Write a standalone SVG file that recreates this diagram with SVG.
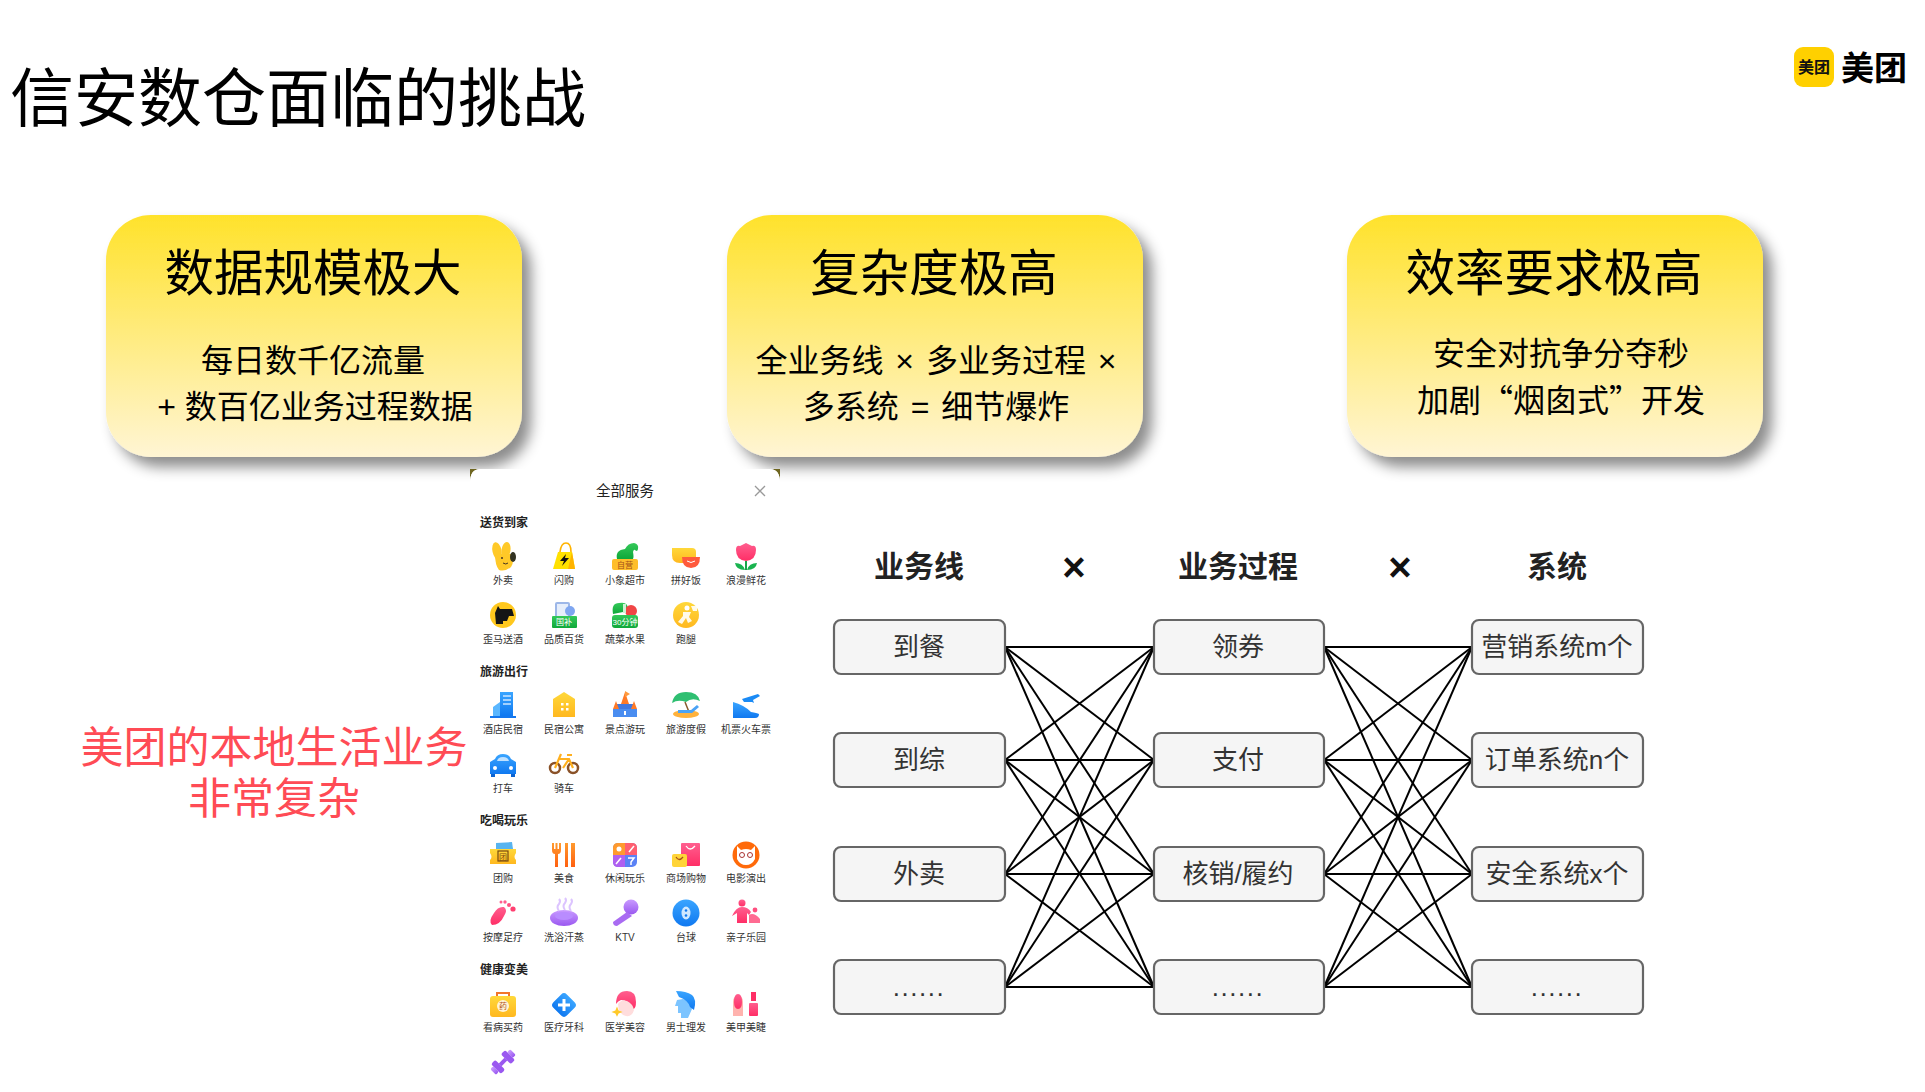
<svg xmlns="http://www.w3.org/2000/svg" width="1925" height="1092" viewBox="0 0 1925 1092">
<style>
text{font-family:"Liberation Sans","Noto Sans CJK SC",sans-serif;text-anchor:middle}
.title{font-size:64px;text-anchor:start;fill:#000}
.ch{font-size:49.500px;fill:#000}
.cs{font-size:32px;fill:#000}
.cjk{font-family:"Noto Sans CJK SC",sans-serif}
.ws{word-spacing:3px}
.red{font-size:43px;fill:#ff4b55}
.colh{font-size:30px;font-weight:700;fill:#222}
.times{font-size:40px;font-weight:700;fill:#111}
.nt{font-size:26px;fill:#333}
.dots{letter-spacing:1.500px}
.nr{fill:#f5f5f5;stroke:#666;stroke-width:2.200}
.lbl{font-size:10px;fill:#333}
.hd{font-size:12px;font-weight:700;fill:#222}
#connectors line{stroke:#000;stroke-width:2}
</style>
<defs>
<linearGradient id="cg" x1="0" y1="0" x2="0" y2="1"><stop offset="0" stop-color="#ffe22b"/><stop offset="1" stop-color="#fff5d4"/></linearGradient>
<linearGradient id="yl" x1="0" y1="0" x2="0" y2="1"><stop offset="0" stop-color="#ffd83a"/><stop offset="1" stop-color="#ffb81f"/></linearGradient>
<linearGradient id="gr" x1="0" y1="0" x2="0" y2="1"><stop offset="0" stop-color="#35c95a"/><stop offset="1" stop-color="#0fa83a"/></linearGradient>
<linearGradient id="bl" x1="0" y1="0" x2="0" y2="1"><stop offset="0" stop-color="#3aa5ff"/><stop offset="1" stop-color="#0f78f0"/></linearGradient>
<linearGradient id="pk" x1="0" y1="0" x2="0" y2="1"><stop offset="0" stop-color="#ff5f8f"/><stop offset="1" stop-color="#ff2e66"/></linearGradient>
<linearGradient id="pu" x1="0" y1="0" x2="0" y2="1"><stop offset="0" stop-color="#c99bff"/><stop offset="1" stop-color="#9a58f0"/></linearGradient>
<linearGradient id="or" x1="0" y1="0" x2="0" y2="1"><stop offset="0" stop-color="#ff9a2e"/><stop offset="1" stop-color="#ff5f0f"/></linearGradient>
<filter id="sh" x="-10%" y="-10%" width="125%" height="130%"><feDropShadow dx="9" dy="10" stdDeviation="7" flood-color="#000" flood-opacity=".45"/></filter>
</defs>
<rect width="1925" height="1092" fill="#fff"/>
<text class="title" x="10" y="121">信安数仓面临的挑战</text>

<g id="logo">
<rect x="1794" y="47" width="40" height="40" rx="9" fill="#ffd000"/>
<text x="1814" y="73" style="font-size:16px;font-weight:700;fill:#111">美团</text>
<text x="1874" y="80" style="font-size:33px;font-weight:700;fill:#000">美团</text>
</g>

<g id="card1"><rect x="106" y="215" width="416" height="242" rx="45" fill="url(#cg)" filter="url(#sh)"/>
<text class="ch" x="313" y="291">数据规模极大</text>
<text class="cs" x="313" y="372">每日数千亿流量</text>
<text class="cs" x="315" y="418">+ 数百亿业务过程数据</text></g>
<g id="card2"><rect x="727" y="215" width="416" height="242" rx="45" fill="url(#cg)" filter="url(#sh)"/>
<text class="ch" x="934" y="291">复杂度极高</text>
<text class="cs ws" x="936" y="372">全业务线 × 多业务过程 ×</text>
<text class="cs ws" x="936" y="418">多系统 = 细节爆炸</text></g>
<g id="card3"><rect x="1347" y="215" width="416" height="242" rx="45" fill="url(#cg)" filter="url(#sh)"/>
<text class="ch" x="1554" y="291">效率要求极高</text>
<text class="cs" x="1561" y="365">安全对抗争分夺秒</text>
<text class="cs cjk" x="1561" y="412">加剧“烟囱式”开发</text></g>

<g id="red-note"><text class="red" x="274" y="763">美团的本地生活业务</text><text class="red" x="274" y="814">非常复杂</text></g>

<g id="panel">
<path d="M470 483q0-14 10-14h-10z M780 483q0-14-10-14h10z" fill="#6f6620"/>
<path d="M480 469H770Q780 469 780 483V1092H470V483Q470 469 480 469Z" fill="#fff"/>
<text x="625" y="496" style="font-size:14.500px;fill:#222">全部服务</text>
<path d="M755 486l10 10M765 486l-10 10" stroke="#999" stroke-width="1.300" fill="none"/>
<text class="hd" x="504" y="527">送货到家</text>
<text class="hd" x="504" y="676">旅游出行</text>
<text class="hd" x="504" y="825">吃喝玩乐</text>
<text class="hd" x="504" y="974">健康变美</text>

<g class="labels">
<text class="lbl" x="503" y="584">外卖</text><text class="lbl" x="564" y="584">闪购</text><text class="lbl" x="625" y="584">小象超市</text><text class="lbl" x="686" y="584">拼好饭</text><text class="lbl" x="746" y="584">浪漫鲜花</text>
<text class="lbl" x="503" y="643">歪马送酒</text><text class="lbl" x="564" y="643">品质百货</text><text class="lbl" x="625" y="643">蔬菜水果</text><text class="lbl" x="686" y="643">跑腿</text>
<text class="lbl" x="503" y="733">酒店民宿</text><text class="lbl" x="564" y="733">民宿公寓</text><text class="lbl" x="625" y="733">景点游玩</text><text class="lbl" x="686" y="733">旅游度假</text><text class="lbl" x="746" y="733">机票火车票</text>
<text class="lbl" x="503" y="792">打车</text><text class="lbl" x="564" y="792">骑车</text>
<text class="lbl" x="503" y="882">团购</text><text class="lbl" x="564" y="882">美食</text><text class="lbl" x="625" y="882">休闲玩乐</text><text class="lbl" x="686" y="882">商场购物</text><text class="lbl" x="746" y="882">电影演出</text>
<text class="lbl" x="503" y="941">按摩足疗</text><text class="lbl" x="564" y="941">洗浴汗蒸</text><text class="lbl" x="625" y="941">KTV</text><text class="lbl" x="686" y="941">台球</text><text class="lbl" x="746" y="941">亲子乐园</text>
<text class="lbl" x="503" y="1031">看病买药</text><text class="lbl" x="564" y="1031">医疗牙科</text><text class="lbl" x="625" y="1031">医学美容</text><text class="lbl" x="686" y="1031">男士理发</text><text class="lbl" x="746" y="1031">美甲美睫</text>
</g>

<g class="icons">
<g transform="translate(503,557)"><ellipse cx="-6" cy="-6" rx="4.500" ry="9" fill="#ffc928" transform="rotate(-12 -6 -6)"/><ellipse cx="3" cy="-7" rx="4.500" ry="8" fill="#ffc928" transform="rotate(8 3 -7)"/><path d="M-8-3H8Q12 4 8 10Q2 15-4 13Q-8 8-8-3Z" fill="#ffc928"/><ellipse cx="10" cy="0" rx="3" ry="5" fill="#332"/><circle cx="-1" cy="1" r="1" fill="#432"/><path d="M0 6q3 2 5 0" stroke="#432" fill="none"/></g>
<g transform="translate(564,557)"><path d="M-11 12L-6-5H8L11 12Z" fill="#ffe100"/><path d="M8-5L11 12H4Z" fill="#ffb300"/><path d="M-4-5Q-3-14 2-14Q7-14 7-5" stroke="#ffb300" stroke-width="1.600" fill="none"/><path d="M2-3L-4 4H0L-2 9L5 1H1Z" fill="#111"/></g>
<g transform="translate(625,557)"><path d="M-8 2Q-10-7 0-8Q3-14 9-14Q14-13 13-8Q13-6 11-6Q9-9 8-5Q9 0 8 2Z" fill="url(#gr)"/><rect x="-13" y="2" width="26" height="11" rx="2" fill="#ffbe2b"/><text x="0" y="11" style="font-size:8px;fill:#a4501a">自营</text></g>
<g transform="translate(686,557)"><path d="M-14-9H6Q10-9 10-5V6H-6Q-14 6-14-2Z" fill="url(#yl)"/><path d="M-4 0H14Q14 11 5 11Q-4 11-4 0Z" fill="#ff5a3c"/><path d="M1 4q4 3 8 0" stroke="#fff" fill="none"/></g>
<g transform="translate(746,557)"><path d="M-10-7Q-10-12-6-11L0-14L6-11Q10-12 10-7Q10 3 0 4Q-10 3-10-7Z" fill="url(#pk)"/><path d="M0 4V13" stroke="#19a648" stroke-width="2"/><path d="M-1 13Q-10 13-11 6Q-3 6-1 13ZM1 13Q10 13 11 6Q3 6 1 13Z" fill="#19b34f"/></g>
<g transform="translate(503,615)"><circle r="13" fill="#ffc81e"/><path d="M-8-2L-5-9L-3-6L9-6L11 1L6 1L4 6L0 6V9H-7Z" fill="#151515"/></g>
<g transform="translate(564,615)"><rect x="-9" y="-13" width="15" height="20" rx="2" fill="#9db7e8"/><rect x="-7" y="-11" width="11" height="16" fill="#e6eefb"/><circle cx="6" cy="-4" r="5" fill="#7fa6f0"/><rect x="-12" y="1" width="25" height="12" rx="1" fill="url(#gr)"/><text x="0" y="10" style="font-size:8px;fill:#fff">国补</text></g>
<g transform="translate(625,615)"><path d="M-12-1Q-14-12-6-12Q4-14 3-4Z" fill="url(#gr)"/><circle cx="6" cy="-4" r="6" fill="#f04545"/><rect x="-2" y="-11" width="3" height="9" fill="#cdf3d6"/><rect x="-13" y="0" width="26" height="13" rx="3" fill="url(#gr)"/><text x="0" y="10" style="font-size:8px;fill:#fff">30分钟</text></g>
<g transform="translate(686,615)"><circle r="13" fill="url(#yl)"/><circle cx="1" cy="-7" r="2.500" fill="#fff"/><path d="M-3-3H5L3 2L6 6L2 8L0 3L-4 9L-8 7L-3 1ZM5-9H11V-4H7Z" fill="#fff" opacity=".9"/></g>
<g transform="translate(503,705)"><path d="M-3-13H10V11H-3Z" fill="url(#bl)"/><path d="M0-9H8M0-5H8M0-1H8" stroke="#cde6ff" stroke-width="1.500"/><path d="M-10 2L-3-3V11H-10Z" fill="#5ab7ff"/><rect x="-13" y="11" width="26" height="2" fill="#1477ee"/></g>
<g transform="translate(564,705)"><path d="M-11-6L0-13L11-6V12H-11Z" fill="url(#yl)"/><rect x="-3" y="-2" width="2.500" height="2.500" fill="#fff"/><rect x="2" y="-2" width="2.500" height="2.500" fill="#fff"/><rect x="-3" y="3" width="2.500" height="2.500" fill="#fff"/><rect x="2" y="3" width="2.500" height="2.500" fill="#fff"/></g>
<g transform="translate(625,705)"><rect x="-8" y="-1" width="16" height="13" fill="#3f78e0"/><rect x="-12" y="4" width="24" height="8" fill="#4a8df0"/><path d="M-4-1L0-13L4-1Z M-12 4L-9-4L-6 4Z M6 4L9-4L12 4Z" fill="#ff7a26"/><path d="M0-14V-8L5-11Z" fill="#ff9a3c"/><rect x="-1" y="6" width="2" height="4" fill="#fff"/></g>
<g transform="translate(686,705)"><path d="M-14-2Q-12-13 0-13Q12-13 14-4Q6-8 0-3Q-8-6-14-2Z" fill="#2fbf71"/><path d="M-1-3L3 7" stroke="#8a5a2c" stroke-width="1.500"/><ellipse cx="0" cy="9" rx="13" ry="4" fill="#ffb23c"/><path d="M-8 5H5L11 0L13 2L6 8H-8Z" fill="#4aa3f5"/></g>
<g transform="translate(746,705)"><path d="M-4-6L12-11L14-9L7-5L8-2L6-3L-2-3Z" fill="#1a8af5"/><path d="M-13-3Q-2 0 5 7Q11 8 13 9Q13 13 9 13H-13Z" fill="url(#bl)"/></g>
<g transform="translate(503,765)"><path d="M-8-6Q-6-11 0-11Q6-11 8-6L13-3V9H-13V-3Z" fill="url(#bl)"/><path d="M-6-4Q-5-8 0-8Q5-8 6-4Z" fill="#bfe1ff"/><circle cx="-8" cy="3" r="2" fill="#fff"/><circle cx="8" cy="3" r="2" fill="#fff"/><rect x="-12" y="9" width="4" height="3" fill="#0b63d0"/><rect x="8" y="9" width="4" height="3" fill="#0b63d0"/></g>
<g transform="translate(564,763)"><circle cx="-9" cy="5" r="5" fill="none" stroke="#8a5228" stroke-width="2.500"/><circle cx="9" cy="5" r="5" fill="none" stroke="#8a5228" stroke-width="2.500"/><path d="M-9 5L-3-9M-5-4L5-4L9 5M-1 5L5-4M3-8H8" stroke="#ffb01f" stroke-width="2.200" fill="none"/></g>
<g transform="translate(503,855)"><path d="M-7-12L9-13L10-6H-7Z" fill="#58b4f0"/><path d="M-13-6H13V-2Q10 2 13 5V9H-13V5Q-10 2-13-2Z" fill="url(#yl)"/><rect x="-5" y="-4" width="10" height="10" fill="none" stroke="#7a4a10" stroke-width="1.200"/><text x="0" y="5" style="font-size:8px;fill:#7a4a10">团</text></g>
<g transform="translate(564,855)"><path d="M-12-12V-5Q-12-1-9-1V12H-6V-1Q-3-1-3-5V-12H-5V-6H-6.500V-12H-8.500V-6H-10V-12Z" fill="url(#or)"/><path d="M1-12H4V12H1ZM7-12H11V12H7Z" fill="url(#or)"/></g>
<g transform="translate(625,855)"><rect x="-12" y="-12" width="24" height="24" rx="5" fill="#5a82f5"/><path d="M0 0H-12V-7Q-12-12-7-12H0Z" fill="#ff9a2e"/><path d="M0 0H12V-7Q12-12 7-12H0Z" fill="#ff5f70"/><path d="M0 0H-12V7Q-12 12-7 12H0Z" fill="#b060f0"/><circle cx="-6" cy="-6" r="2.500" fill="#fff"/><path d="M9-9L4-3M-4 3L-9 9M3 3H9L6 7V10" stroke="#fff" stroke-width="1.500" fill="none"/></g>
<g transform="translate(686,855)"><rect x="-5" y="-12" width="19" height="23" rx="1" fill="url(#pk)"/><path d="M0-9q4 6 9 0" stroke="#fff" fill="none" stroke-width="1.300"/><rect x="-14" y="-1" width="15" height="13" rx="2" fill="#ffd438"/><path d="M-10 2q3 5 7 0" stroke="#a4501a" fill="none" stroke-width="1.300"/></g>
<g transform="translate(746,855)"><circle r="13.500" fill="#ff6a0a"/><path d="M-9-9L-5-5Q0-7 5-5L9-9V4Q6 10 0 10Q-6 10-9 4Z" fill="#fff"/><circle cx="-4" cy="0" r="2.500" fill="none" stroke="#a33"/><circle cx="4" cy="0" r="2.500" fill="none" stroke="#a33"/></g>
<g transform="translate(503,913)"><path d="M-11 12Q-15 8-9 0Q-5-7 1-6Q5-3 1 3Q-3 12-11 12Z" fill="url(#pk)"/><circle cx="-2" cy="-11" r="1.500" fill="#ff5f8f"/><circle cx="2" cy="-11" r="1.700" fill="#ff5f8f"/><circle cx="6" cy="-8" r="2" fill="#ff4f7f"/><circle cx="10" cy="-4" r="2.600" fill="#ff3f70"/></g>
<g transform="translate(564,913)"><ellipse cx="0" cy="5" rx="14" ry="8" fill="url(#pu)"/><ellipse cx="0" cy="3" rx="9" ry="4" fill="#b98cff"/><path d="M-5-2Q-8-6-5-9Q-3-12-5-14M1-3Q-2-7 1-10Q3-13 1-15M7-2Q4-6 7-9Q9-12 7-14" stroke="#dcc4ff" stroke-width="2" fill="none"/></g>
<g transform="translate(625,913)"><circle cx="6" cy="-6" r="7.500" fill="url(#pu)"/><path d="M2-1L7 3L-8 13Q-12 13-12 9Z" fill="#a96bf2"/></g>
<g transform="translate(686,913)"><circle r="13.500" fill="url(#bl)"/><ellipse cx="0" cy="0" rx="4.500" ry="6.500" fill="#cfe8ff"/><circle cx="0" cy="-2.500" r="1.300" fill="#0f78f0"/><circle cx="0" cy="2.500" r="1.300" fill="#0f78f0"/></g>
<g transform="translate(746,913)"><circle cx="-4" cy="-10" r="3.500" fill="url(#pk)"/><path d="M-14 3Q-10-6-4-6Q2-6 5-1L3 2L1 0V10H-9V0Z" fill="url(#pk)"/><circle cx="9" cy="-3" r="2.400" fill="#ff4f7f"/><path d="M3 10V2Q8-1 14 6V10Z" fill="#ff6b92"/></g>
<g transform="translate(503,1005)"><path d="M-6-9V-12H6V-9" stroke="#f2762a" stroke-width="2" fill="none"/><rect x="-13" y="-9" width="26" height="21" rx="3" fill="url(#yl)"/><circle r="6" cy="1" fill="#fff3d6"/><text x="0" y="4" style="font-size:8px;fill:#b4591a">药</text></g>
<g transform="translate(564,1005)"><rect x="-9.500" y="-9.500" width="19" height="19" rx="4" fill="url(#bl)" transform="rotate(45)"/><path d="M-6 0H6M0-6V6" stroke="#fff" stroke-width="3"/></g>
<g transform="translate(625,1005)"><path d="M-9-1Q-9-14 2-14Q11-14 11-3Q11 4 8 4Q4-5-4-5Q-7-4-9-1Z" fill="url(#pk)"/><path d="M-7-1Q-4-6 2-4Q8-1 9 5Q7 12 1 11Q-7 9-7-1Z" fill="#fdd"/><path d="M-10 3L-8 8L-3 10L-8 12L-10 16L-12 12L-17 10L-12 8Z" fill="#ffc928" transform="translate(0,-1) scale(.8)"/></g>
<g transform="translate(686,1005)"><path d="M-9-5L-3-6Q6-4 6 4L2 13H-5V8H-8V1L-11 1Z" fill="#7cc4ff"/><path d="M-10-14Q0-14 6-10Q11-6 8 5L4 2Q2-5-7-8Z" fill="url(#bl)"/></g>
<g transform="translate(746,1005)"><path d="M-13 11V-3Q-13-9-8-9Q-3-9-3-3V11Z" fill="#ffb3ae"/><path d="M-12-3Q-12-11-8-11Q-4-11-4-3Q-4 4-8 4Q-12 4-12-3Z" fill="url(#pk)"/><rect x="5" y="-13" width="5" height="9" fill="#ff2e66"/><rect x="3" y="-2" width="9" height="13" rx="1" fill="url(#pk)"/></g>
<g transform="translate(503,1062) rotate(-45)"><rect x="-14" y="-4" width="4" height="8" rx="1.500" fill="url(#pu)"/><rect x="-10" y="-7" width="6" height="14" rx="2" fill="#9a58f0"/><rect x="-4" y="-2" width="8" height="4" fill="#9a58f0"/><rect x="4" y="-7" width="6" height="14" rx="2" fill="#9a58f0"/><rect x="10" y="-4" width="4" height="8" rx="1.500" fill="url(#pu)"/></g>
</g>
</g>

<g id="headers">
<text class="colh" x="919" y="577">业务线</text>
<text class="times" x="1074" y="581">×</text>
<text class="colh" x="1238" y="577">业务过程</text>
<text class="times" x="1400" y="581">×</text>
<text class="colh" x="1557" y="577">系统</text>
</g>

<g id="connectors">
<line x1="1005" y1="647" x2="1154" y2="647"/><line x1="1005" y1="647" x2="1154" y2="760"/><line x1="1005" y1="647" x2="1154" y2="874"/><line x1="1005" y1="647" x2="1154" y2="987"/>
<line x1="1005" y1="760" x2="1154" y2="647"/><line x1="1005" y1="760" x2="1154" y2="760"/><line x1="1005" y1="760" x2="1154" y2="874"/><line x1="1005" y1="760" x2="1154" y2="987"/>
<line x1="1005" y1="874" x2="1154" y2="647"/><line x1="1005" y1="874" x2="1154" y2="760"/><line x1="1005" y1="874" x2="1154" y2="874"/><line x1="1005" y1="874" x2="1154" y2="987"/>
<line x1="1005" y1="987" x2="1154" y2="647"/><line x1="1005" y1="987" x2="1154" y2="760"/><line x1="1005" y1="987" x2="1154" y2="874"/><line x1="1005" y1="987" x2="1154" y2="987"/>
<line x1="1324" y1="647" x2="1472" y2="647"/><line x1="1324" y1="647" x2="1472" y2="760"/><line x1="1324" y1="647" x2="1472" y2="874"/><line x1="1324" y1="647" x2="1472" y2="987"/>
<line x1="1324" y1="760" x2="1472" y2="647"/><line x1="1324" y1="760" x2="1472" y2="760"/><line x1="1324" y1="760" x2="1472" y2="874"/><line x1="1324" y1="760" x2="1472" y2="987"/>
<line x1="1324" y1="874" x2="1472" y2="647"/><line x1="1324" y1="874" x2="1472" y2="760"/><line x1="1324" y1="874" x2="1472" y2="874"/><line x1="1324" y1="874" x2="1472" y2="987"/>
<line x1="1324" y1="987" x2="1472" y2="647"/><line x1="1324" y1="987" x2="1472" y2="760"/><line x1="1324" y1="987" x2="1472" y2="874"/><line x1="1324" y1="987" x2="1472" y2="987"/>
</g>

<g id="n-daocan"><rect class="nr" x="834" y="620" width="171" height="54" rx="7"/><text class="nt" x="919" y="656">到餐</text></g>
<g id="n-daozong"><rect class="nr" x="834" y="733" width="171" height="54" rx="7"/><text class="nt" x="919" y="769">到综</text></g>
<g id="n-waimai"><rect class="nr" x="834" y="847" width="171" height="54" rx="7"/><text class="nt" x="919" y="883">外卖</text></g>
<g id="n-more1"><rect class="nr" x="834" y="960" width="171" height="54" rx="7"/><text class="nt dots" x="919" y="996">......</text></g>
<g id="n-lingquan"><rect class="nr" x="1154" y="620" width="170" height="54" rx="7"/><text class="nt" x="1238" y="656">领券</text></g>
<g id="n-zhifu"><rect class="nr" x="1154" y="733" width="170" height="54" rx="7"/><text class="nt" x="1238" y="769">支付</text></g>
<g id="n-hexiao"><rect class="nr" x="1154" y="847" width="170" height="54" rx="7"/><text class="nt" x="1238" y="883">核销/履约</text></g>
<g id="n-more2"><rect class="nr" x="1154" y="960" width="170" height="54" rx="7"/><text class="nt dots" x="1238" y="996">......</text></g>
<g id="n-yingxiao"><rect class="nr" x="1472" y="620" width="171" height="54" rx="7"/><text class="nt" x="1557" y="656">营销系统m个</text></g>
<g id="n-dingdan"><rect class="nr" x="1472" y="733" width="171" height="54" rx="7"/><text class="nt" x="1557" y="769">订单系统n个</text></g>
<g id="n-anquan"><rect class="nr" x="1472" y="847" width="171" height="54" rx="7"/><text class="nt" x="1557" y="883">安全系统x个</text></g>
<g id="n-more3"><rect class="nr" x="1472" y="960" width="171" height="54" rx="7"/><text class="nt dots" x="1557" y="996">......</text></g>
</svg>
